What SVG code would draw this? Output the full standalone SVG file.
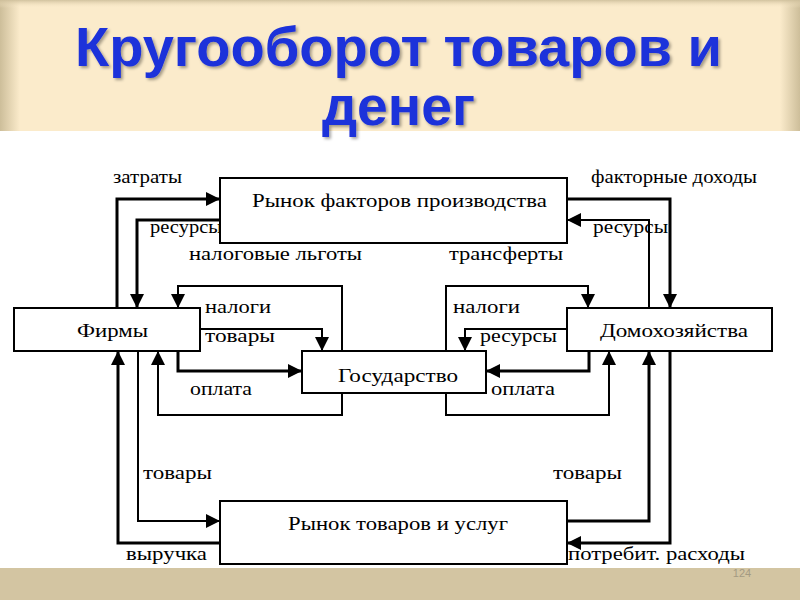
<svg xmlns="http://www.w3.org/2000/svg" width="800" height="600" viewBox="0 0 800 600">
  <defs>
    <linearGradient id="bannerH" x1="0" y1="0" x2="1" y2="0">
      <stop offset="0" stop-color="#CDBE9A"/>
      <stop offset="0.025" stop-color="#FBEBCB"/>
      <stop offset="0.975" stop-color="#FBEBCB"/>
      <stop offset="1" stop-color="#CDBE9A"/>
    </linearGradient>
    <linearGradient id="bannerTop" x1="0" y1="0" x2="0" y2="1">
      <stop offset="0" stop-color="#CDBE9A" stop-opacity="0.9"/>
      <stop offset="1" stop-color="#FBEBCB" stop-opacity="0"/>
    </linearGradient>
    <filter id="shadow" x="-5%" y="-20%" width="110%" height="140%">
      <feDropShadow dx="2" dy="2" stdDeviation="1.5" flood-color="#000" flood-opacity="0.35"/>
    </filter>
    <marker id="arr" markerUnits="userSpaceOnUse" markerWidth="14" markerHeight="14" viewBox="0 0 14 14" refX="14" refY="7" orient="auto">
      <path d="M0,0 L14,7 L0,14 z" fill="#000"/>
    </marker>
  </defs>
  <style>
    .title { font-family: "Liberation Sans", Arial, sans-serif; font-weight: bold; font-size: 56px; fill: #1C30DA; }
    .lbl { font-family: "Liberation Serif", "Times New Roman", serif; font-size: 19px; fill: #000; }
    .box { fill: #fff; stroke: #000; stroke-width: 2; }
    .c { fill: none; stroke: #000; stroke-width: 2; marker-end: url(#arr); }
    .t { stroke-width: 3; }
  </style>

  <!-- background -->
  <rect x="0" y="0" width="800" height="600" fill="#fff"/>
  <rect x="0" y="0" width="800" height="131" fill="url(#bannerH)"/>
  <rect x="0" y="0" width="800" height="8" fill="url(#bannerTop)"/>
  <rect x="0" y="568" width="800" height="32" fill="#D3C5A2"/>
  <text x="742" y="577" font-family="Liberation Sans, Arial, sans-serif" font-size="11" fill="#A39A82" text-anchor="middle">124</text>

  <!-- title -->
  <g filter="url(#shadow)">
    <text class="title" x="75" y="66" textLength="647" lengthAdjust="spacingAndGlyphs">Кругооборот товаров и</text>
    <text class="title" x="322" y="125" textLength="153" lengthAdjust="spacingAndGlyphs">денег</text>
  </g>

  <!-- connector labels -->
  <g id="labels">
    <text class="lbl" x="113" y="183" textLength="69" lengthAdjust="spacingAndGlyphs">затраты</text>
    <text class="lbl" x="150" y="233" textLength="72" lengthAdjust="spacingAndGlyphs">ресурсы</text>
    <text class="lbl" x="189" y="260" textLength="173" lengthAdjust="spacingAndGlyphs">налоговые льготы</text>
    <text class="lbl" x="591" y="183" textLength="166" lengthAdjust="spacingAndGlyphs">факторные доходы</text>
    <text class="lbl" x="593" y="233" textLength="75" lengthAdjust="spacingAndGlyphs">ресурсы</text>
    <text class="lbl" x="449" y="260" textLength="114" lengthAdjust="spacingAndGlyphs">трансферты</text>
    <text class="lbl" x="205" y="313" textLength="66" lengthAdjust="spacingAndGlyphs">налоги</text>
    <text class="lbl" x="205" y="342" textLength="70" lengthAdjust="spacingAndGlyphs">товары</text>
    <text class="lbl" x="190" y="395" textLength="62" lengthAdjust="spacingAndGlyphs">оплата</text>
    <text class="lbl" x="453" y="313" textLength="67" lengthAdjust="spacingAndGlyphs">налоги</text>
    <text class="lbl" x="480" y="342" textLength="77" lengthAdjust="spacingAndGlyphs">ресурсы</text>
    <text class="lbl" x="491" y="395" textLength="64" lengthAdjust="spacingAndGlyphs">оплата</text>
    <text class="lbl" x="143" y="479" textLength="69" lengthAdjust="spacingAndGlyphs">товары</text>
    <text class="lbl" x="553" y="479" textLength="69" lengthAdjust="spacingAndGlyphs">товары</text>
    <text class="lbl" x="126" y="560" textLength="81" lengthAdjust="spacingAndGlyphs">выручка</text>
    <text class="lbl" x="568" y="560" textLength="177" lengthAdjust="spacingAndGlyphs">потребит. расходы</text>
  </g>

  <!-- connectors -->
  <g id="connectors">
    <path class="c t" d="M117,308 V199 H220"/>
    <path class="c t" d="M220,220 H137 V308"/>
    <path class="c" d="M342,351 V286 H178 V308"/>
    <path class="c" d="M200,329 H322 V351"/>
    <path class="c t" d="M178,351 V371 H302"/>
    <path class="c" d="M342,393 V415 H158 V351"/>
    <path class="c" d="M138,351 V521 H220"/>
    <path class="c t" d="M220,543 H118 V351"/>
    <path class="c t" d="M567,199 H670 V308"/>
    <path class="c" d="M649,308 V220 H567"/>
    <path class="c" d="M446,351 V286 H588 V308"/>
    <path class="c" d="M567,329 H465 V351"/>
    <path class="c t" d="M589,351 V371 H486"/>
    <path class="c" d="M446,393 V415 H609 V351"/>
    <path class="c t" d="M567,521 H649 V351"/>
    <path class="c t" d="M670,351 V543 H567"/>
  </g>

  <!-- nodes -->
  <g id="factor-market">
    <rect class="box" x="220" y="178" width="347" height="65"/>
    <text class="lbl" x="252" y="207" textLength="295" lengthAdjust="spacingAndGlyphs">Рынок факторов производства</text>
  </g>
  <g id="firms">
    <rect class="box" x="14" y="308" width="186" height="43"/>
    <text class="lbl" x="77" y="337" textLength="71" lengthAdjust="spacingAndGlyphs">Фирмы</text>
  </g>
  <g id="state">
    <rect class="box" x="302" y="351" width="184" height="42"/>
    <text class="lbl" x="338" y="382" textLength="120" lengthAdjust="spacingAndGlyphs">Государство</text>
  </g>
  <g id="households">
    <rect class="box" x="567" y="308" width="205" height="43"/>
    <text class="lbl" x="600" y="337" textLength="148" lengthAdjust="spacingAndGlyphs">Домохозяйства</text>
  </g>
  <g id="goods-market">
    <rect class="box" x="220" y="501" width="347" height="63"/>
    <text class="lbl" x="288" y="530" textLength="220" lengthAdjust="spacingAndGlyphs">Рынок товаров и услуг</text>
  </g>
</svg>
